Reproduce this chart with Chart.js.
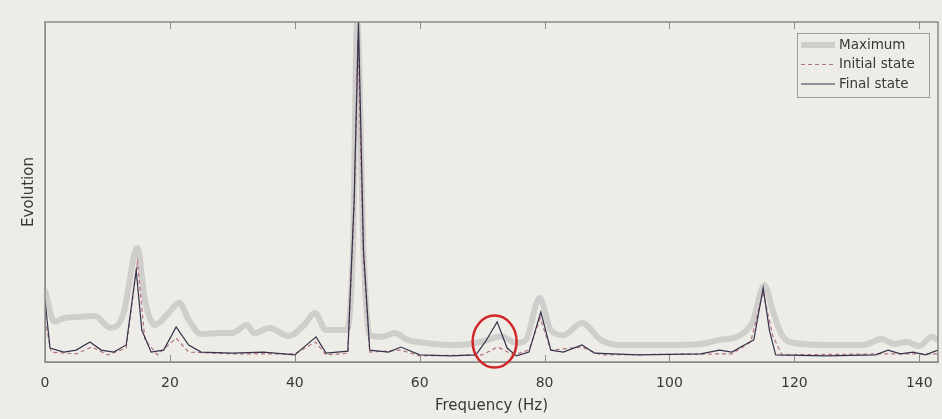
<!DOCTYPE html>
<html>
<head>
<meta charset="utf-8">
<script src="https://cdn.jsdelivr.net/npm/chart.js@4/dist/chart.umd.min.js"></script>
<style>
  body { margin: 0; background: #eeece6; }
  #box { width: 942px; height: 419px; }
</style>
</head>
<body>
<div id="box"><canvas id="grafico" width="942" height="419"></canvas></div>
<script>
// tick labels on the frequency axis
var xTicks = [0, 20, 40, 60, 80, 100, 120, 140];

// Maximum (thick grey)
var maxF = [0, 1.5, 3, 5, 8, 10.5, 12.5, 14.8, 16, 17.6, 19.5, 21.5, 23, 25, 28, 30, 32.3, 33.5, 36, 39, 41.5, 43.2, 45, 48.3, 49.3, 50, 51, 52, 54, 56, 58, 61, 65, 68, 71, 73, 75.5, 77, 79.2, 81, 83, 86, 89, 92, 100, 105, 108, 111, 113.3, 115.2, 116.5, 118, 120, 125, 131, 134, 136, 138, 140, 142, 143];
var maxV = [21.2, 11.8, 12.9, 13.2, 13.5, 10, 13.8, 33.5, 18.2, 10.9, 13.8, 17.4, 12.4, 8.2, 8.5, 8.5, 10.9, 8.5, 10, 7.6, 10.9, 14.4, 9.4, 9.4, 33, 100, 33, 7.9, 7.4, 8.5, 6.5, 5.6, 5, 5.3, 6.5, 7.6, 5.6, 6.5, 18.8, 9.4, 7.9, 11.5, 6.5, 5, 5, 5.3, 6.5, 7.6, 11.8, 22.6, 15.3, 7.9, 5.6, 5, 5, 6.8, 5.3, 5.9, 4.7, 7.4, 6.5];

// Initial state (dashed)
var iniF = [0, 1, 5, 7.5, 10, 13, 14.8, 16, 18, 21, 23, 30, 40, 43.3, 45, 48.5, 49.5, 50.1, 51, 52, 57, 60, 70, 72.5, 75, 77.5, 79.3, 81, 86, 89, 110, 113, 115, 116.5, 118, 135, 143];
var iniV = [12.4, 2.9, 2.4, 4.4, 2.1, 4.1, 29.4, 6.5, 2.1, 7, 2.9, 2.4, 2.4, 5.9, 2.1, 2.6, 44.7, 94.7, 30, 2.9, 3.5, 1.8, 2.1, 4.4, 2.1, 3.5, 12.9, 3.5, 4.4, 2.1, 2.4, 5.9, 20.6, 7.9, 2.1, 2.4, 2.4];

// Final state (thin)
var finF = [0, 0.8, 3, 5, 7.2, 9, 11, 13, 14.6, 15.5, 17, 19, 21, 23, 25, 30, 35, 40, 43.4, 45, 48.5, 49.5, 50.2, 51, 52, 55, 57, 60, 65, 69, 70.5, 72.4, 74, 75.5, 77.5, 79.4, 81, 83, 86, 88, 95, 105, 108, 110, 112, 113.5, 115, 116, 117, 125, 133, 135, 137, 139, 141, 143];
var finV = [18.2, 4.1, 2.9, 3.5, 5.9, 3.5, 2.9, 5, 27, 9.4, 2.9, 3.5, 10.3, 5, 2.9, 2.6, 2.9, 2.1, 7.4, 2.6, 3.2, 47.6, 100, 33, 3.5, 2.9, 4.4, 2.1, 1.8, 2.1, 5.9, 11.8, 4.1, 1.8, 2.9, 14.7, 3.5, 2.9, 5, 2.6, 2.1, 2.4, 3.5, 2.9, 5, 6.5, 21.8, 9.4, 2.1, 1.8, 2.1, 3.5, 2.4, 2.9, 2.1, 3.5];

var legendNames = ["Maximum", "Initial state", "Final state"];
var circleAt = [72, 6]; // highlighted peak (Hz, value)

function pts(f, v) {
    var out = [];
    for (var i = 0; i < f.length; i++) {
        out.push({ x: f[i], y: v[i] });
    }
    return out;
}

var axisColor = "#8a8a88";
var textColor = "#383838";

// box, inward ticks, legend and red circle
var extras = {
    id: "extras",
    afterDraw: function (chart) {
        var c = chart.ctx;
        var a = chart.chartArea;
        var xs = chart.scales.x;
        c.save();
        c.strokeStyle = axisColor;
        c.lineWidth = 1.5;
        c.strokeRect(a.left, a.top, a.right - a.left, a.bottom - a.top);
        c.lineWidth = 1;
        xTicks.forEach(function (t) {
            var px = Math.round(xs.getPixelForValue(t)) + 0.5;
            c.beginPath();
            c.moveTo(px, a.bottom); c.lineTo(px, a.bottom - 7);
            c.moveTo(px, a.top); c.lineTo(px, a.top + 7);
            c.stroke();
        });

        // circle
        var cx = xs.getPixelForValue(circleAt[0]);
        var cy = chart.scales.y.getPixelForValue(circleAt[1]);
        c.strokeStyle = "#d0262a";
        c.lineWidth = 2.5;
        c.beginPath();
        c.ellipse(cx, cy, 22, 26, 0, 0, Math.PI * 2);
        c.stroke();

        // legend
        var lx = a.right - 141, ly = a.top + 11, lw = 132, lh = 64;
        c.fillStyle = "#eeece6";
        c.fillRect(lx, ly, lw, lh);
        c.strokeStyle = "#9a9a98";
        c.lineWidth = 1;
        c.strokeRect(lx + 0.5, ly + 0.5, lw, lh);
        var ds = chart.data.datasets;
        c.font = "13.5px 'DejaVu Sans'";
        c.textBaseline = "middle";
        for (var i = 0; i < 3; i++) {
            var yy = ly + 12 + i * 19.5;
            c.strokeStyle = ds[i].borderColor;
            c.lineWidth = ds[i].borderWidth;
            c.setLineDash(ds[i].borderDash || []);
            c.beginPath();
            c.moveTo(lx + 4, yy); c.lineTo(lx + 38, yy);
            c.stroke();
            c.setLineDash([]);
            c.fillStyle = textColor;
            c.fillText(legendNames[i], lx + 42, yy);
        }
        c.restore();
    }
};

var bg = {
    id: "bg",
    beforeDraw: function (chart) {
        var c = chart.ctx;
        c.save();
        c.fillStyle = "#eeece6";
        c.fillRect(0, 0, chart.width, chart.height);
        c.restore();
    }
};

var ctx = document.getElementById("grafico");
var ChartGraph = new Chart(ctx, {
    type: "line",
    data: {
        datasets: [{
            label: legendNames[0],
            data: pts(maxF, maxV),
            borderColor: "rgba(204,204,202,0.95)",
            borderWidth: 6,
            pointRadius: 0,
            cubicInterpolationMode: "monotone",
            order: 3
        }, {
            label: legendNames[1],
            data: pts(iniF, iniV),
            borderColor: "#b5707e",
            borderWidth: 1.2,
            borderDash: [4, 3],
            pointRadius: 0,
            tension: 0,
            order: 2
        }, {
            label: legendNames[2],
            data: pts(finF, finV),
            borderColor: "#35324a",
            borderWidth: 1.2,
            pointRadius: 0,
            tension: 0,
            order: 1
        }]
    },
    options: {
        responsive: false,
        animation: false,
        layout: { padding: { left: 16, top: 22, right: 4, bottom: 0 } },
        plugins: {
            legend: { display: false },
            tooltip: { enabled: false }
        },
        scales: {
            x: {
                type: "linear",
                min: 0,
                max: 143,
                afterBuildTicks: function (s) {
                    s.ticks = xTicks.map(function (t) { return { value: t }; });
                },
                afterFit: function (s) { s.height = 57; },
                grid: { display: false },
                border: { color: axisColor },
                ticks: { color: textColor, font: { size: 14, family: "DejaVu Sans" }, padding: 5, maxRotation: 0 },
                title: { display: true, text: "Frequency (Hz)", color: textColor, font: { size: 15, family: "DejaVu Sans" }, padding: { top: 0, bottom: 4 } }
            },
            y: {
                min: 0,
                max: 100,
                afterFit: function (s) { s.width = 29; },
                grid: { display: false },
                border: { color: axisColor },
                ticks: { display: false },
                title: { display: true, text: "Evolution", color: textColor, font: { size: 15, family: "DejaVu Sans" }, padding: { top: 4, bottom: 0 } }
            }
        }
    },
    plugins: [bg, extras]
});
</script>
</body>
</html>
